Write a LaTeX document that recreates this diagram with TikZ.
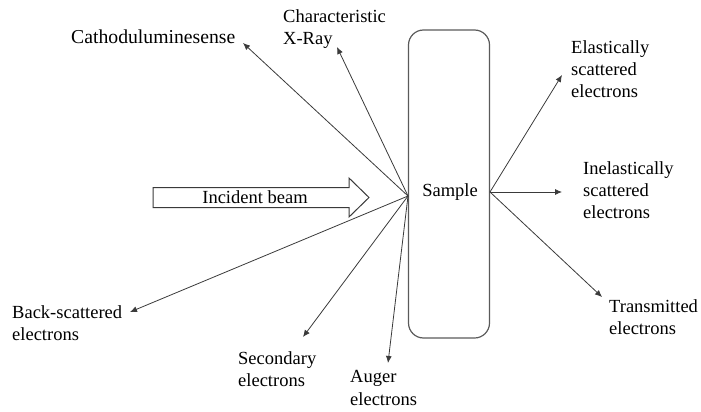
\documentclass[tikz,border=0pt]{standalone}
\usepackage{fontspec}
\setmainfont{Liberation Serif}
\newfontfamily\labelfont{Liberation Serif}
\usetikzlibrary{arrows.meta}

\definecolor{linegray}{HTML}{3A3A3A}
\definecolor{boxgray}{HTML}{5A5A5A}

\begin{document}
\begin{tikzpicture}[
			x=1pt,y=-1pt,
			font=\labelfont\fontsize{18.5}{22.2}\selectfont,
			lbl/.style={align=left,anchor=west,inner sep=0pt},
			samplebox/.style={
				rectangle,draw=boxgray,line width=1.2pt,
				rounded corners=15pt,
				minimum width=81pt,minimum height=308pt
			},
			beamarrow/.style={draw=linegray,line width=1pt,line join=miter},
			arrow/.style={-{Latex[length=7pt,width=6pt]},line width=0.8pt,draw=linegray}
			]
			
			\useasboundingbox (0,0) rectangle (701,412);
			
			\node[samplebox] (sample) at (449,184) {};
			\node (samplelabel) at (450,192) {Sample};
			
			\coordinate (hitL) at (408,196);
			\coordinate (hitR) at (490,192);
			
			% incident beam
			\node (beam) at (255,197) {Incident beam};
			\draw[beamarrow] (153,187.5) -- (349,187.5) -- (349,178) -- (369,197.5)
			-- (349,217) -- (349,207.5) -- (153,207.5) -- cycle;
			
			% signals on the beam side
			\node[lbl,font=\labelfont\fontsize{19.7}{23}\selectfont] (cathodo) at (71,37)
			{Cathoduluminesense};
			\node[lbl] (xray) at (283,29) {Characteristic\\X-Ray};
			\node[lbl] (backscat) at (12,323) {Back-scattered\\electrons};
			\node[lbl] (secondary) at (238,369) {Secondary\\electrons};
			\node[lbl] (auger) at (350,388) {Auger\\electrons};
			
			\coordinate (cathodotip) at (243,43);
			\coordinate (xraytip) at (337,47);
			\coordinate (backscattip) at (130,312);
			\coordinate (secondarytip) at (303,337);
			\coordinate (augertip) at (388,363);
			
			\draw[arrow] (hitL) -- (cathodotip);
			\draw[arrow] (hitL) -- (xraytip);
			\draw[arrow] (hitL) -- (backscattip);
			\draw[arrow] (hitL) -- (secondarytip);
			\draw[arrow] (hitL) -- (augertip);
			
			% signals through the sample
			\node[lbl] (elastic) at (571,69) {Elastically\\scattered\\electrons};
			\node[lbl] (inelastic) at (583,190) {Inelastically\\scattered\\electrons};
			\node[lbl] (transmitted) at (609,317) {Transmitted\\electrons};
			
			\coordinate (elastictip) at (562,75);
			\coordinate (inelastictip) at (562,192);
			\coordinate (transmittedtip) at (602,297);
			
			\draw[arrow] (hitR) -- (elastictip);
			\draw[arrow] (hitR) -- (inelastictip);
			\draw[arrow] (hitR) -- (transmittedtip);
			
		\end{tikzpicture}
\end{document}
